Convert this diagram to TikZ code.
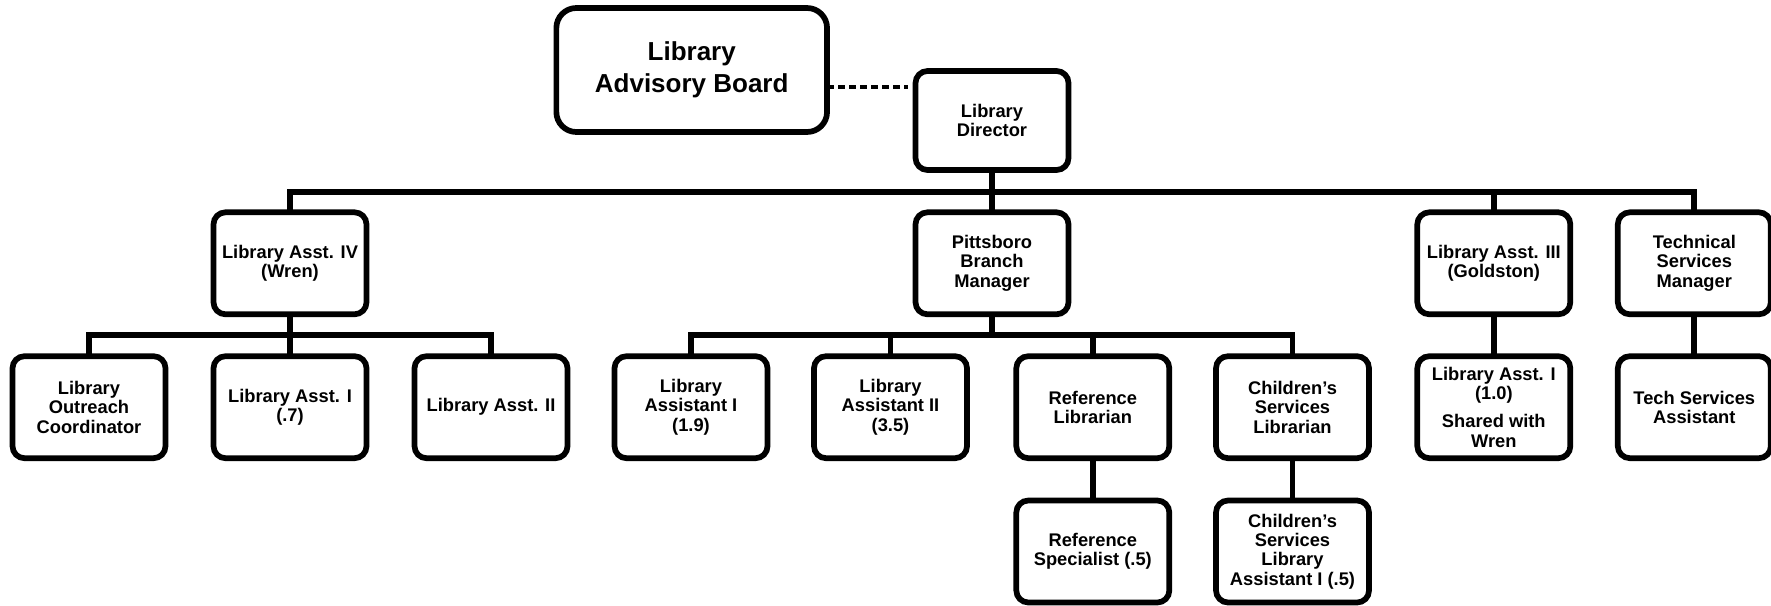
\documentclass[tikz,border=0pt]{standalone}
\usepackage{fontspec}
\setmainfont{Liberation Sans}
\usetikzlibrary{calc}
\begin{document}
\begin{tikzpicture}[x=1pt,y=-1pt,
  box/.style={draw, line width=5.7pt, rounded corners=12pt, minimum width=153pt, minimum height=102pt,
    align=center, font=\fontsize{18.3}{19.3}\selectfont\bfseries, inner sep=2pt, outer sep=0pt},
  bigbox/.style={box, minimum width=270.7pt, minimum height=124pt, rounded corners=20pt,
    font=\fontsize{26}{31.7}\selectfont\bfseries},
  link/.style={line width=5.7pt},
  dashlink/.style={line width=4pt, dash pattern=on 7pt off 4pt}]
\useasboundingbox (0,0) rectangle (1771,605);
% nodes
\node[bigbox] (board) at (691.7,70) {Library\\Advisory Board};
\node[box, minimum height=99pt] (dir) at (992,120.5) {Library\\Director};
\node[box] (wren) at (290,263.3) {Library Asst. IV\\(Wren)};
\node[box] (pitt) at (992,263.3) {Pittsboro\\Branch\\Manager};
\node[box] (gold) at (1493.8,263.3) {Library Asst. III\\(Goldston)};
\node[box] (techm) at (1694.3,263.3) {Technical\\Services\\Manager};
\node[box] (outreach) at (89,407.2) {Library\\Outreach\\Coordinator};
\node[box] (a1) at (290,407.2) {Library Asst. I\\(.7)};
\node[box] (a2) at (491,407.2) {Library Asst. II};
\node[box] (la1) at (691,407.2) {Library\\Assistant I\\(1.9)};
\node[box] (la2) at (890.5,407.2) {Library\\Assistant II\\(3.5)};
\node[box] (refl) at (1092.8,407.2) {Reference\\Librarian};
\node[box] (csl) at (1292.5,407.2) {Children’s\\Services\\Librarian};
\node[box] (ga1) at (1493.8,407.2) {Library Asst. I\\(1.0)\\[9pt]Shared with\\Wren};
\node[box] (tsa) at (1694.3,407.2) {Tech Services\\Assistant};
\node[box] (refs) at (1092.8,551.5) {Reference\\Specialist (.5)};
\node[box] (csa) at (1292.5,551.5) {Children’s\\Services\\Library\\Assistant I (.5)};
% bus levels
\coordinate (bus) at (0,192);
\coordinate (sb) at (0,335.3);
% connectors
\draw[dashlink, shorten >=7.5pt] ([yshift=-17.3pt]board.east) -- ([yshift=-17.3pt]board.east -| dir.west);
\draw[link] (dir.south) -- (dir |- bus);
\draw[link] (wren.north) -- (wren |- bus) -- (techm |- bus) -- (techm.north);
\draw[link] (pitt.north) -- (pitt |- bus);
\draw[link] (gold.north) -- (gold |- bus);
\draw[link] (wren.south) -- (wren |- sb);
\draw[link] (outreach.north) -- (outreach |- sb) -- (a2 |- sb) -- (a2.north);
\draw[link] (a1.north) -- (a1 |- sb);
\draw[link] (pitt.south) -- (pitt |- sb);
\draw[link] (la1.north) -- (la1 |- sb) -- (csl |- sb) -- (csl.north);
\draw[link] (la2.north) -- (la2 |- sb);
\draw[link] (refl.north) -- (refl |- sb);
\draw[link] (gold.south) -- (ga1.north);
\draw[link] (techm.south) -- (tsa.north);
\draw[link] (refl.south) -- (refs.north);
\draw[link] (csl.south) -- (csa.north);
\end{tikzpicture}
\end{document}
